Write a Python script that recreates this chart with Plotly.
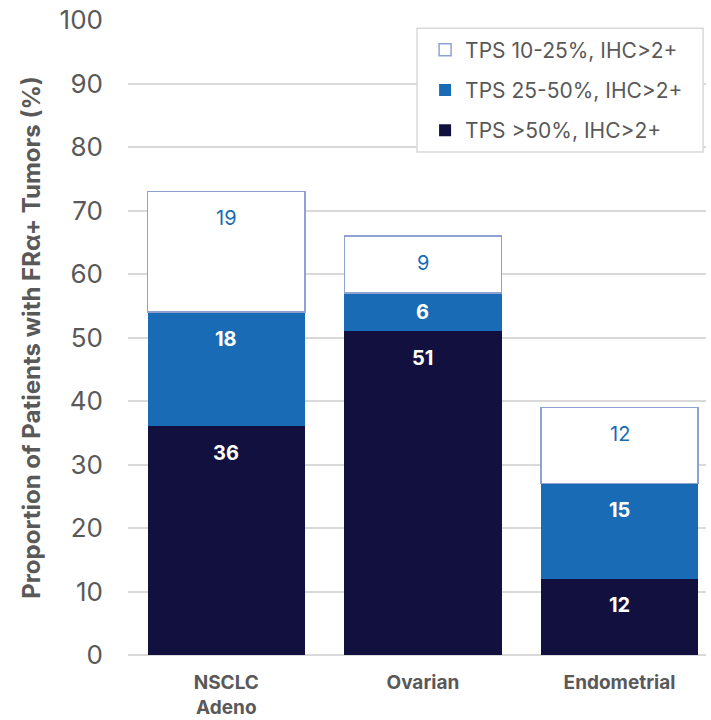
import plotly.graph_objects as go

categories = ["NSCLC<br>Adeno", "Ovarian", "Endometrial"]
tps_gt50 = [36, 51, 12]
tps_25_50 = [18, 6, 15]
tps_10_25 = [19, 9, 12]
series_names = ["TPS >50%, IHC>2+", "TPS 25-50%, IHC>2+", "TPS 10-25%, IHC>2+"]
legend_ranks = [3, 2, 1]
y_ticks = [0, 10, 20, 30, 40, 50, 60, 70, 80, 90, 100]

DARK = "#12103f"
BLUE = "#1a6bb5"
OUTLINE = "#8ea2d2"
GREY = "#595959"
FONT = "Inter"

xs = list(range(len(categories)))
fig = go.Figure()
series = [tps_gt50, tps_25_50, tps_10_25]
fills = [DARK, BLUE, "white"]
lines = [DARK, BLUE, OUTLINE]
for i, (vals, name) in enumerate(zip(series, series_names)):
    fig.add_trace(go.Bar(
        x=xs, y=vals, name=name, legendgroup=name, legendrank=legend_ranks[i],
        marker=dict(color=fills[i], line=dict(color=lines[i], width=1.5 if i == 2 else 0)),
        width=0.8, hoverinfo="skip",
    ))

# labels near the top of each segment ("inside end")
base = [0] * len(xs)
for i, vals in enumerate(series):
    for j, v in enumerate(vals):
        top = base[j] + v
        off = min(4.2, v / 2)
        fig.add_annotation(
            x=xs[j], y=top - off, text=str(v), showarrow=False,
            font=dict(family=FONT, size=20, color="white" if i < 2 else BLUE,
                      weight="bold" if i < 2 else "normal"),
            yanchor="middle", xanchor="center",
        )
        base[j] = top

# legend frame
fig.add_shape(type="rect", xref="paper", yref="paper",
              x0=0.5, x1=0.995, y0=0.792, y1=0.987,
              line=dict(color="#d9d9d9", width=1.5), fillcolor="white", layer="above")

fig.update_layout(
    barmode="stack",
    width=711, height=720,
    margin=dict(l=128, r=5, t=20, b=65),
    paper_bgcolor="white", plot_bgcolor="white",
    font=dict(family=FONT, color=GREY),
    legend=dict(
        x=0.514, y=0.985, xanchor="left", yanchor="top",
        traceorder="grouped", tracegroupgap=10,
        borderwidth=0,
        font=dict(family=FONT, size=21, color=GREY),
        bgcolor="rgba(0,0,0,0)",
    ),
    showlegend=True,
)
fig.update_xaxes(
    tickmode="array", tickvals=xs, ticktext=categories,
    range=[-0.5, 2.44], showgrid=False, zeroline=False, showline=False,
    tickfont=dict(family=FONT, size=19, color=GREY, weight="bold"),
    ticks="", ticklabelstandoff=14, automargin=False,
)
fig.update_yaxes(
    range=[0, 100], tickvals=y_ticks, showgrid=True, gridcolor="#d9d9d9", gridwidth=1.5,
    zeroline=True, zerolinecolor="#d9d9d9", zerolinewidth=1.5,
    tickfont=dict(family=FONT, size=26, color=GREY),
    ticklabelstandoff=24, automargin=False,
    title=dict(text="Proportion of Patients with FRα+ Tumors (%)",
               font=dict(family=FONT, size=24, color=GREY, weight="bold"), standoff=12),
)
fig.write_html("out.html", config={"displayModeBar": False},
               post_script="document.body.style.margin='0';")
